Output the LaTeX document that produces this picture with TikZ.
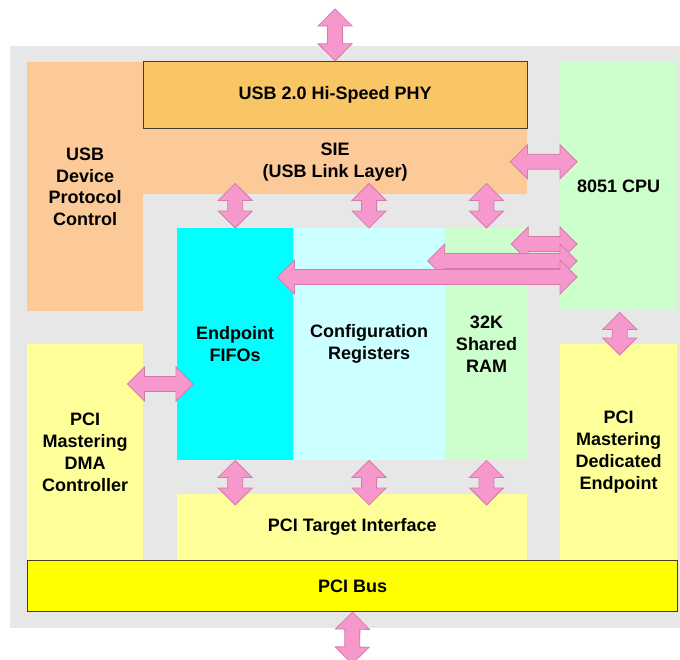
\documentclass[tikz,border=0pt]{standalone}
\usepackage{fontspec}
\setmainfont{Liberation Sans}
\usepackage{tikz}
\usetikzlibrary{positioning,calc}
\definecolor{bggray}{RGB}{231,231,231}
\definecolor{peach}{RGB}{252,202,152}
\definecolor{phyorange}{RGB}{249,198,102}
\definecolor{mint}{RGB}{204,255,204}
\definecolor{fifocyan}{RGB}{0,255,255}
\definecolor{cfgcyan}{RGB}{204,255,255}
\definecolor{paleyellow}{RGB}{255,255,153}
\definecolor{busyellow}{RGB}{255,255,0}
\definecolor{linkpink}{RGB}{246,152,204}
\definecolor{linkedge}{RGB}{212,122,172}
\definecolor{darkline}{RGB}{70,60,40}
\tikzstyle{blk} = [rectangle, inner sep=0pt, align=center, anchor=north west,
    font=\bfseries\fontsize{18}{21.8}\selectfont]
\tikzstyle{framed} = [draw=darkline, line width=1.2pt]
\tikzstyle{fatarrow} = [fill=linkpink, draw=linkedge, line width=0.8pt, line join=miter]
\newcommand{\fatlink}[2]{%
  \path (#1) coordinate (fa) (#2) coordinate (fb);
  \draw[fatarrow] (fa) -- ($(fa)!17pt!(fb)!17pt!90:(fb)$) -- ($(fa)!17pt!(fb)!7.5pt!90:(fb)$)
    -- ($(fb)!17pt!(fa)!7.5pt!-90:(fa)$) -- ($(fb)!17pt!(fa)!17pt!-90:(fa)$) -- (fb)
    -- ($(fb)!17pt!(fa)!17pt!90:(fa)$) -- ($(fb)!17pt!(fa)!7.5pt!90:(fa)$)
    -- ($(fa)!17pt!(fb)!7.5pt!-90:(fb)$) -- ($(fa)!17pt!(fb)!17pt!-90:(fb)$) -- cycle;}

\begin{document}
\begin{tikzpicture}[x=1pt, y=-1pt]
\fill[white] (0,0) rectangle (680,659);
\useasboundingbox (0,0) rectangle (680,659);
\fill[bggray] (10,46) rectangle (680,628);

\node[blk, fill=peach, minimum width=116pt, minimum height=249pt] (usbdev) at (27,62) {USB\\Device\\Protocol\\Control};
\node[blk, fill=peach, minimum width=384pt, minimum height=65pt] (sie) at (143,129) {SIE\\(USB Link Layer)};
\node[blk, fill=phyorange, framed, minimum width=384pt, minimum height=67pt, above=0pt of sie] (phy) {USB 2.0 Hi-Speed PHY};
\node[blk, fill=mint, minimum width=117pt, minimum height=248pt] (cpu) at (560,62) {8051 CPU};

\node[blk, fill=fifocyan, minimum width=116pt, minimum height=232pt] (fifo) at (177,228) {Endpoint\\FIFOs};
\node[blk, fill=cfgcyan, minimum width=151pt, minimum height=232pt, right=0pt of fifo] (cfg) {Configuration\\Registers};
\node[blk, fill=mint, minimum width=83pt, minimum height=232pt, right=0pt of cfg] (ram) {32K\\Shared\\RAM};

\node[blk, fill=paleyellow, minimum width=116pt, minimum height=216pt] (dma) at (27,344) {PCI\\Mastering\\DMA\\Controller};
\node[blk, fill=paleyellow, minimum width=117pt, minimum height=216pt] (ded) at (560,344) {PCI\\Mastering\\Dedicated\\Endpoint};
\node[blk, fill=paleyellow, minimum width=350pt, minimum height=66pt] (tgt) at (177,494) {PCI Target Interface};
\node[blk, fill=busyellow, framed, minimum width=650pt, minimum height=51pt] (bus) at (27,560) {PCI Bus};

\coordinate (usbport) at (335,9);
\coordinate (pciport) at (352,664);

\fatlink{usbport}{phy.north}
\fatlink{$(sie.east)+(-17,0)$}{$(cpu.west |- sie.east)+(17,0)$}
\fatlink{$(fifo.north |- sie.south)+(0,-11)$}{fifo.north}
\fatlink{$(cfg.north |- sie.south)+(0,-11)$}{cfg.north}
\fatlink{$(ram.north |- sie.south)+(0,-11)$}{ram.north}
\fatlink{$(ram.north east)+(-17,16)$}{$(cpu.west |- ram.north)+(17,16)$}
\fatlink{$(ram.north west)+(-17,33)$}{$(cpu.west |- ram.north)+(17,33)$}
\fatlink{$(fifo.north east)+(-16,49)$}{$(cpu.west |- fifo.north)+(17,49)$}
\fatlink{$(cpu.south)+(1,2)$}{$(ded.north)+(1,11)$}
\fatlink{$(dma.north east)+(-16,40)$}{$(fifo.west |- dma.north)+(16,40)$}
\fatlink{fifo.south}{$(fifo.south |- tgt.north)+(0,11)$}
\fatlink{cfg.south}{$(cfg.south |- tgt.north)+(0,11)$}
\fatlink{ram.south}{$(ram.south |- tgt.north)+(0,11)$}
\fatlink{bus.south}{pciport}
\end{tikzpicture}
\end{document}
